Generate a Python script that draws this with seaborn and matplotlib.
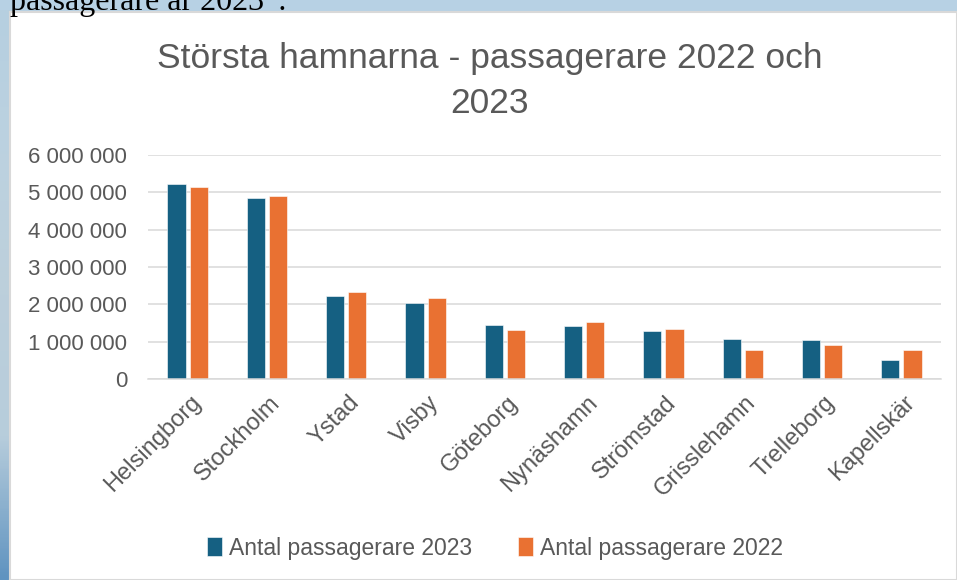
import matplotlib
matplotlib.use('Agg')
import numpy as np
import pandas as pd
import seaborn as sns
import matplotlib.pyplot as plt
import matplotlib.transforms as mtransforms
from matplotlib.ticker import FuncFormatter

# data
hamnar = ['Helsingborg', 'Stockholm', 'Ystad', 'Visby', 'Göteborg',
          'Nynäshamn', 'Strömstad', 'Grisslehamn', 'Trelleborg', 'Kapellskär']
pass_2023 = [5210000, 4840000, 2220000, 2030000, 1450000,
             1430000, 1280000, 1070000, 1040000, 520000]
pass_2022 = [5155000, 4900000, 2330000, 2170000, 1310000,
             1530000, 1340000, 780000, 920000, 780000]
serie_2023 = 'Antal passagerare 2023'
serie_2022 = 'Antal passagerare 2022'

df = pd.DataFrame({
    'hamn': hamnar * 2,
    'passagerare': pass_2023 + pass_2022,
    'serie': [serie_2023] * len(hamnar) + [serie_2022] * len(hamnar),
})

sns.set_theme(style='white')
plt.rcParams['font.family'] = ['Liberation Sans', 'DejaVu Sans']

grey = '#595959'
W, H = 957, 580
fig = plt.figure(figsize=(9.57, 5.8), dpi=100)
fig.patch.set_facecolor('#b7d1e4')

# screenshot background: blue strip on the left, white chart area
grad = np.linspace(0, 1, 200).reshape(-1, 1)
strip = fig.add_axes([0, 0, 11 / W, 1 - 10 / H])
strip.imshow(grad, aspect='auto', cmap=matplotlib.colors.LinearSegmentedColormap.from_list(
    'strip', ['#b6cfe0', '#bcd2e0', '#bccfdb', '#b7cddc', '#5f93c0']), extent=[0, 1, 0, 1])
strip.axis('off')
paper = fig.add_axes([10 / W, 0, 1 - 10 / W, 1 - 12 / H])
paper.set_facecolor('white')
paper.set_xticks([])
paper.set_yticks([])
for s in paper.spines.values():
    s.set_color('#d9d9d9')
    s.set_linewidth(1.5)

fig.text(10 / W, 1 - 10 / H, 'passagerare år 2023”.', family=['Liberation Serif', 'DejaVu Serif'],
         fontsize=23, color='black', ha='left', va='baseline')

ax = fig.add_axes([148 / W, 1 - 379 / H, (941 - 148) / W, (379 - 155) / H])
ax.set_facecolor('white')
sns.barplot(data=df, x='hamn', y='passagerare', hue='serie', order=hamnar,
            hue_order=[serie_2023, serie_2022], palette=['#156082', '#e97132'],
            width=0.56, gap=0.18, edgecolor='white', linewidth=0.4,
            saturation=1, ax=ax, legend=True)

ax.set_ylim(0, 6000000)
ax.set_xlim(-0.5, len(hamnar) - 0.5)
ax.set_yticks(np.arange(0, 6000001, 1000000))
ax.yaxis.set_major_formatter(FuncFormatter(lambda v, p: f'{int(v):,}'.replace(',', ' ')))
ax.grid(axis='y', color='#d9d9d9', linewidth=1.1)
ax.set_axisbelow(True)
for s in ['top', 'right', 'left']:
    ax.spines[s].set_visible(False)
ax.spines['bottom'].set_color('#d9d9d9')
ax.spines['bottom'].set_linewidth(1.1)
ax.set_xlabel('')
ax.set_ylabel('')
ax.tick_params(axis='both', length=0, colors=grey)
ax.tick_params(axis='y', pad=15, labelsize=16)
ax.tick_params(axis='x', pad=9, labelsize=17)
shift = mtransforms.ScaledTranslation(2 / 100, 0, fig.dpi_scale_trans)
for lbl in ax.get_xticklabels():
    lbl.set_rotation(45)
    lbl.set_ha('right')
    lbl.set_va('top')
    lbl.set_rotation_mode('anchor')
    lbl.set_transform(lbl.get_transform() + shift)

fig.text(490 / W, 1 - 81 / H, 'Största hamnarna - passagerare 2022 och\n2023', ha='center',
         va='center', fontsize=25.5, color=grey, linespacing=1.45)

handles, labels = ax.get_legend_handles_labels()
ax.legend(handles, labels, loc='center', bbox_to_anchor=(495 / W, 1 - 548 / H),
          bbox_transform=fig.transFigure, ncol=2, frameon=False, handlelength=0.65,
          handleheight=0.9, handletextpad=0.3, columnspacing=2.0,
          prop={'size': 16.5}, labelcolor=grey)

fig.savefig('out.png', dpi=100, facecolor=fig.get_facecolor())
